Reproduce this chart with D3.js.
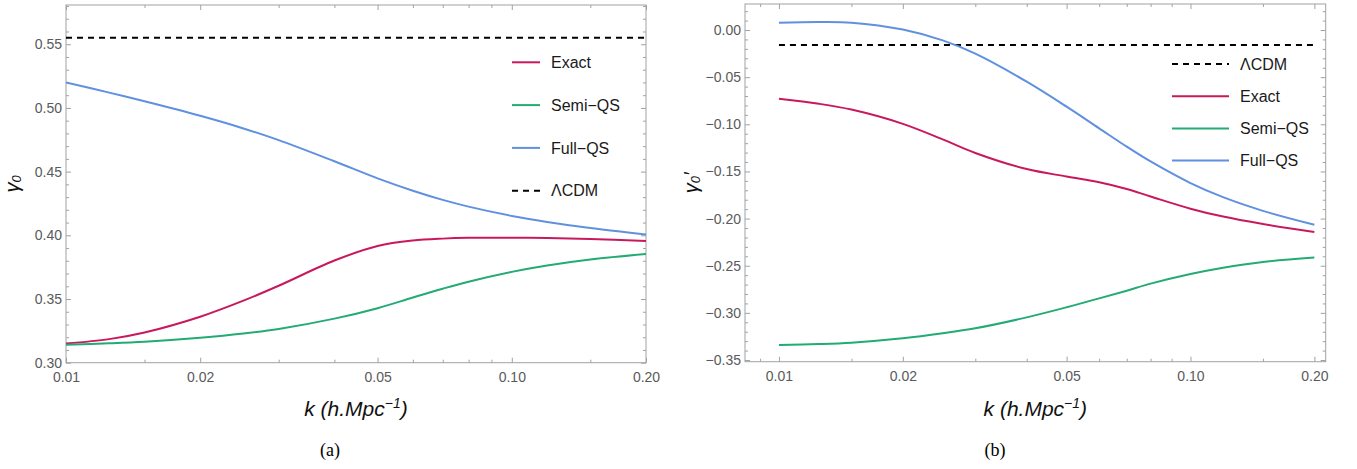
<!DOCTYPE html>
<html>
<head>
<meta charset="utf-8">
<script src="https://cdn.jsdelivr.net/npm/d3@7"></script>
<style>
  body { margin: 0; background: #fff; }
  svg { display: block; }
</style>
</head>
<body>
<svg id="chart" width="1357" height="469"></svg>
<script>
// Wavenumber grid (h/Mpc) shared by every curve
const kGrid = [0.01, 0.0125, 0.015, 0.02, 0.025, 0.03, 0.04, 0.05, 0.06, 0.07, 0.08, 0.1, 0.12, 0.15, 0.2];

// Panel (a): gamma_0
const exactA = [0.315, 0.3185, 0.3237, 0.3361, 0.3487, 0.3604, 0.3802, 0.3916, 0.3959, 0.3974, 0.398, 0.3981, 0.3978, 0.3971, 0.3955];
const semiA  = [0.314, 0.3152, 0.3165, 0.3196, 0.3229, 0.3265, 0.3346, 0.3428, 0.3512, 0.3581, 0.3636, 0.3713, 0.3763, 0.381, 0.3853];
const fullA  = [0.520, 0.512, 0.5052, 0.4938, 0.4839, 0.4747, 0.4581, 0.4447, 0.435, 0.4278, 0.4225, 0.4152, 0.4105, 0.4057, 0.4006];
const lcdmA  = 0.555;

// Panel (b): gamma_0'
const exactB = [-0.0729, -0.0782, -0.0844, -0.0995, -0.116, -0.1304, -0.1475, -0.1554, -0.1614, -0.1686, -0.1766, -0.1895, -0.1979, -0.2058, -0.2143];
const semiB  = [-0.3341, -0.3331, -0.3316, -0.327, -0.3217, -0.3164, -0.3048, -0.2941, -0.2846, -0.2765, -0.269, -0.2588, -0.2521, -0.246, -0.2413];
const fullB  = [0.0078, 0.0085, 0.0078, 0.0005, -0.011, -0.0251, -0.0548, -0.0813, -0.1043, -0.1237, -0.1394, -0.1623, -0.1773, -0.1918, -0.2065];
const lcdmB  = -0.016;

// Tick labels
const xMajorTicks = [0.01, 0.02, 0.05, 0.1, 0.2];
const xMinorTicks = [0.009, 0.015, 0.03, 0.04, 0.06, 0.07, 0.08, 0.09, 0.15];
const yMajorTicksA = [0.30, 0.35, 0.40, 0.45, 0.50, 0.55];
const yMajorTicksB = [0.00, -0.05, -0.10, -0.15, -0.20, -0.25, -0.30, -0.35];

const seriesNames = ["Exact", "Semi-QS", "Full-QS"];
const seriesLabels = { "Exact": "Exact", "Semi-QS": "Semi\u2212QS", "Full-QS": "Full\u2212QS", "LCDM": "\u039BCDM" };
const colors = { "Exact": "#c8195c", "Semi-QS": "#22ab74", "Full-QS": "#6090e0", "LCDM": "#000" };

const svg = d3.select("#chart");
svg.append("rect").attr("width", 1357).attr("height", 469).attr("fill", "#fff");

const FRAME = "#a2a2a2";
const TICKTXT = "#5a5a5a";
const FONT = "'Liberation Sans', Arial, sans-serif";

function drawPanel(p, idx) {
  const x = d3.scaleLog().domain(p.xDomain).range([p.left, p.right]);
  const y = d3.scaleLinear().domain(p.yDomain).range([p.bottom, p.top]);
  const g = svg.append("g");

  const inX = v => v >= p.xDomain[0] && v <= p.xDomain[1];
  const inY = v => v >= Math.min(...p.yDomain) - 1e-9 && v <= Math.max(...p.yDomain) + 1e-9;
  const yMinor = d3.range(-40, 60).map(i => +(i * 0.01).toFixed(2))
    .filter(v => inY(v) && Math.abs(Math.round(v * 100) % 5) !== 0);

  const styleAxis = sel => {
    sel.select(".domain").remove();
    sel.selectAll(".tick line").attr("stroke", FRAME).attr("stroke-width", 1);
    sel.selectAll(".tick text").attr("fill", TICKTXT).attr("font-size", 14).attr("font-family", FONT);
  };
  const blank = () => "";

  // bottom axis
  g.append("g").attr("transform", `translate(0,${p.bottom})`)
    .call(d3.axisBottom(x).tickValues(xMajorTicks.filter(inX)).tickFormat(d3.format(".2f"))
      .tickSizeInner(-5).tickSizeOuter(0).tickPadding(9)).call(styleAxis);
  g.append("g").attr("transform", `translate(0,${p.bottom})`)
    .call(d3.axisBottom(x).tickValues(xMinorTicks.filter(inX)).tickFormat(blank)
      .tickSizeInner(-3).tickSizeOuter(0)).call(styleAxis);
  // top axis (mirror)
  g.append("g").attr("transform", `translate(0,${p.top})`)
    .call(d3.axisTop(x).tickValues(xMajorTicks.filter(inX)).tickFormat(blank)
      .tickSizeInner(-5).tickSizeOuter(0)).call(styleAxis);
  g.append("g").attr("transform", `translate(0,${p.top})`)
    .call(d3.axisTop(x).tickValues(xMinorTicks.filter(inX)).tickFormat(blank)
      .tickSizeInner(-3).tickSizeOuter(0)).call(styleAxis);
  // left axis
  g.append("g").attr("transform", `translate(${p.left},0)`)
    .call(d3.axisLeft(y).tickValues(p.yTicks).tickFormat(d3.format(".2f"))
      .tickSizeInner(-5).tickSizeOuter(0).tickPadding(4)).call(styleAxis);
  g.append("g").attr("transform", `translate(${p.left},0)`)
    .call(d3.axisLeft(y).tickValues(yMinor).tickFormat(blank)
      .tickSizeInner(-3).tickSizeOuter(0)).call(styleAxis);
  // right axis (mirror)
  g.append("g").attr("transform", `translate(${p.right},0)`)
    .call(d3.axisRight(y).tickValues(p.yTicks).tickFormat(blank)
      .tickSizeInner(-5).tickSizeOuter(0)).call(styleAxis);
  g.append("g").attr("transform", `translate(${p.right},0)`)
    .call(d3.axisRight(y).tickValues(yMinor).tickFormat(blank)
      .tickSizeInner(-3).tickSizeOuter(0)).call(styleAxis);

  // frame
  g.append("rect").attr("x", p.left).attr("y", p.top)
    .attr("width", p.right - p.left).attr("height", p.bottom - p.top)
    .attr("fill", "none").attr("stroke", FRAME).attr("stroke-width", 1);

  // clip region
  const clipId = "clip" + idx;
  svg.append("clipPath").attr("id", clipId).append("rect")
    .attr("x", p.left).attr("y", p.top).attr("width", p.right - p.left).attr("height", p.bottom - p.top);
  const plot = g.append("g").attr("clip-path", `url(#${clipId})`);

  // LCDM reference line
  plot.append("line")
    .attr("x1", x(p.lcdmRange[0])).attr("x2", x(p.lcdmRange[1]))
    .attr("y1", y(p.lcdm)).attr("y2", y(p.lcdm))
    .attr("stroke", colors.LCDM).attr("stroke-width", 2).attr("stroke-dasharray", "6,5");

  const line = d3.line().x(d => x(d[0])).y(d => y(d[1])).curve(d3.curveCatmullRom.alpha(0.5));
  seriesNames.forEach(name => {
    const vals = p.series[name];
    plot.append("path").datum(kGrid.map((k, i) => [k, vals[i]]))
      .attr("d", line).attr("fill", "none")
      .attr("stroke", colors[name]).attr("stroke-width", 2);
  });

  // legend
  const lg = g.append("g");
  p.legend.order.forEach((key, i) => {
    const yy = p.legend.y0 + i * p.legend.dy;
    lg.append("line").attr("x1", p.legend.x1).attr("x2", p.legend.x2).attr("y1", yy).attr("y2", yy)
      .attr("stroke", colors[key]).attr("stroke-width", 2)
      .attr("stroke-dasharray", key === "LCDM" ? "6,5" : null);
    lg.append("text").attr("x", p.legend.tx).attr("y", yy).attr("dy", "0.36em")
      .attr("font-family", FONT).attr("font-size", 16).attr("fill", "#1a1a1a")
      .text(seriesLabels[key]);
  });

  // x title
  const cx = (p.left + p.right) / 2;
  const xt = g.append("text").attr("x", cx).attr("y", p.xTitleY).attr("text-anchor", "middle")
    .attr("font-family", FONT).attr("font-size", 21).attr("font-style", "italic").attr("fill", "#111");
  xt.append("tspan").text("k (h.Mpc");
  xt.append("tspan").attr("font-size", 14).attr("dy", -8).text("\u22121");
  xt.append("tspan").attr("dy", 8).text(")");

  // y title
  const cy = (p.top + p.bottom) / 2;
  const yt = g.append("text").attr("transform", `translate(${p.yTitleX},${cy}) rotate(-90)`)
    .attr("text-anchor", "middle").attr("font-family", FONT).attr("font-size", 20)
    .attr("font-style", "italic").attr("fill", "#111");
  yt.append("tspan").text("\u03B3");
  yt.append("tspan").attr("font-size", 13).attr("dy", 2).text("0");
  if (p.prime) yt.append("tspan").attr("dy", -2).attr("font-size", 20).text("\u2032");

  // caption
  svg.append("text").attr("x", p.captionX).attr("y", 456).attr("text-anchor", "middle")
    .attr("font-family", "'Liberation Serif', 'Times New Roman', serif").attr("font-size", 18)
    .attr("fill", "#000").text(p.caption);
}

drawPanel({
  left: 66, right: 646, top: 5, bottom: 362.7,
  xDomain: [0.01, 0.2], yDomain: [0.30, 0.5808], yTicks: yMajorTicksA,
  series: { "Exact": exactA, "Semi-QS": semiA, "Full-QS": fullA },
  lcdm: lcdmA, lcdmRange: [0.01, 0.2],
  legend: { order: ["Exact", "Semi-QS", "Full-QS", "LCDM"], y0: 62.3, dy: 42.8, x1: 512, x2: 540, tx: 551 },
  xTitleY: 416, yTitleX: 19, prime: false, caption: "(a)", captionX: 330
}, 0);

drawPanel({
  left: 745, right: 1325.7, top: 4, bottom: 361.7,
  xDomain: [0.00827, 0.2131], yDomain: [-0.3518, 0.0276], yTicks: yMajorTicksB,
  series: { "Exact": exactB, "Semi-QS": semiB, "Full-QS": fullB },
  lcdm: lcdmB, lcdmRange: [0.01, 0.2],
  legend: { order: ["LCDM", "Exact", "Semi-QS", "Full-QS"], y0: 64, dy: 32.2, x1: 1172, x2: 1229, tx: 1240 },
  xTitleY: 416, yTitleX: 698, prime: true, caption: "(b)", captionX: 995
}, 1);
</script>
</body>
</html>
